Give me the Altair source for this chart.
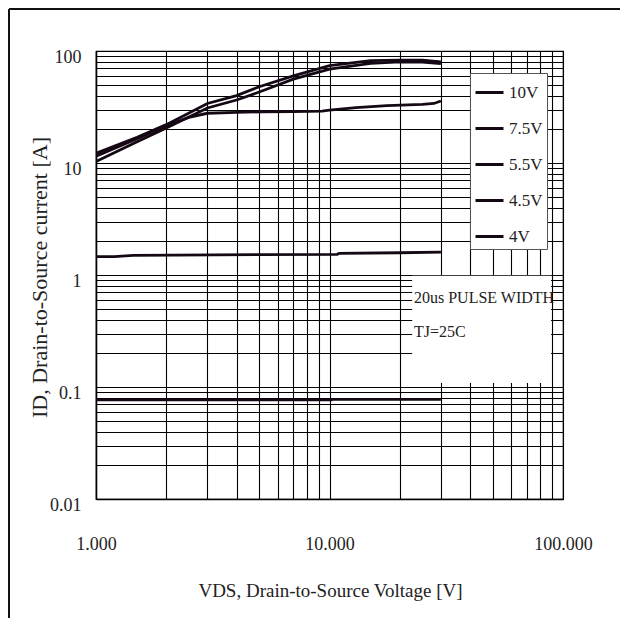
import altair as alt
import pandas as pd

# ---- data ----
series = ["10V", "7.5V", "5.5V", "4.5V", "4V"]

vds_10v = [1.0, 1.5, 2.0, 3.0, 4.0, 5.0, 7.0, 10.0, 15.0, 20.0, 25.0, 30.0]
id_10v = [12.2, 17.0, 22.0, 34.0, 40.0, 48.0, 60.0, 74.0, 82.0, 83.0, 83.0, 80.0]

vds_7v5 = [1.0, 1.5, 2.0, 3.0, 4.0, 5.0, 7.0, 10.0, 15.0, 20.0, 25.0, 30.0]
id_7v5 = [10.3, 15.5, 20.5, 31.0, 36.5, 43.0, 56.0, 69.0, 77.5, 80.0, 79.5, 77.0]

vds_5v5 = [1.0, 1.5, 2.0, 2.5, 3.0, 4.0, 5.0, 7.0, 9.3, 10.0, 13.0, 17.6, 25.0, 28.0, 30.0]
id_5v5 = [11.5, 16.5, 21.5, 25.5, 27.8, 28.3, 28.6, 28.8, 29.0, 29.7, 31.2, 32.5, 33.4, 34.0, 35.8]

vds_4v5 = [1.0, 1.2, 1.44, 5.0, 10.8, 11.0, 20.0, 30.0]
id_4v5 = [1.46, 1.46, 1.50, 1.52, 1.53, 1.56, 1.58, 1.60]

vds_4v = [1.0, 10.2, 10.3, 30.0]
id_4v = [0.0766, 0.0766, 0.0776, 0.0776]

x_ticks = [1, 2, 3, 4, 5, 6, 7, 8, 9, 10, 20, 30, 40, 50, 60, 70, 80, 90, 100]
y_ticks = [0.01, 0.02, 0.03, 0.04, 0.05, 0.06, 0.07, 0.08, 0.09,
           0.1, 0.2, 0.3, 0.4, 0.5, 0.6, 0.7, 0.8, 0.9,
           1, 2, 3, 4, 5, 6, 7, 8, 9,
           10, 20, 30, 40, 50, 60, 70, 80, 90, 100]

note_text = ["20us PULSE WIDTH", "TJ=25C"]
note_x = [23.0, 23.0]
note_y = [0.623, 0.31]
note_box_x = [22.6]
note_box_x2 = [88.9]
note_box_y = [0.985]
note_box_y2 = [0.1086]

# ---- tables ----
rows = []
for name, xs, ys in [("10V", vds_10v, id_10v), ("7.5V", vds_7v5, id_7v5),
                     ("5.5V", vds_5v5, id_5v5), ("4.5V", vds_4v5, id_4v5),
                     ("4V", vds_4v, id_4v)]:
    for i, (xv, yv) in enumerate(zip(xs, ys)):
        rows.append({"series": name, "vds": xv, "id": yv, "order": i})
df = pd.DataFrame(rows)

notes = pd.DataFrame({"text": note_text, "x": note_x, "y": note_y})
box = pd.DataFrame({"x": note_box_x, "x2": note_box_x2, "y": note_box_y, "y2": note_box_y2})

FONT = "Liberation Serif"

xscale = alt.Scale(type="log", domain=[1, 100], nice=False)
yscale = alt.Scale(type="log", domain=[0.01, 100], nice=False)

x_axis = alt.Axis(
    values=x_ticks,
    labelExpr="indexof(['1','10','100'], format(datum.value,'~g')) >= 0 ? format(datum.value,'.3f') : ''",
    labelOverlap=False, labelFlush=False, ticks=False,
    labelPadding=45, labelBaseline="middle", labelFontSize=18,
    title="VDS, Drain-to-Source Voltage [V]",
    titleX=234, titleY=97, titleAlign="center", titleBaseline="alphabetic",
    titleFontSize=19,
)
y_axis = alt.Axis(
    values=y_ticks,
    labelExpr="indexof(['0.01','0.1','1','10','100'], format(datum.value,'~g')) >= 0 ? format(datum.value,'~g') : ''",
    labelOverlap=False, labelFlush=False, ticks=False,
    labelPadding=15, labelBaseline="middle", labelOffset=6, labelFontSize=18,
    title="ID, Drain-to-Source current [A]",
    titleX=-50, titleY=226, titleAngle=270, titleAlign="center", titleBaseline="alphabetic",
    titleFontSize=22,
)

lines = alt.Chart(df).mark_line(strokeWidth=2.8, clip=True).encode(
    x=alt.X("vds:Q", scale=xscale, axis=x_axis),
    y=alt.Y("id:Q", scale=yscale, axis=y_axis),
    color=alt.Color(
        "series:N",
        sort=series,
        scale=alt.Scale(domain=series, range=["#140814"] * 5),
        legend=alt.Legend(
            title=None, orient="none", legendX=374, legendY=22,
            symbolType="stroke", symbolSize=784, symbolStrokeWidth=3,
            labelFont=FONT, labelFontSize=17, labelColor="#222",
            labelOffset=4, rowPadding=12, padding=4,
            fillColor="white", strokeColor="#555",
        ),
    ),
    order="order:Q",
)

note_rect = alt.Chart(box).mark_rect(color="white").encode(
    x=alt.X("x:Q", scale=xscale), x2="x2:Q",
    y=alt.Y("y:Q", scale=yscale), y2="y2:Q",
)

note_txt = alt.Chart(notes).mark_text(
    align="left", baseline="middle", font=FONT, fontSize=16, color="#222"
).encode(
    x=alt.X("x:Q", scale=xscale),
    y=alt.Y("y:Q", scale=yscale),
    text="text:N",
)

frame_df = pd.DataFrame({"k": [0]})
frame_left = alt.Chart(frame_df).mark_rule(color="#111", strokeWidth=2).encode(
    x=alt.value(-87), y=alt.value(-42), y2=alt.value(567)
)
frame_top = alt.Chart(frame_df).mark_rule(color="#111", strokeWidth=2).encode(
    x=alt.value(-87), x2=alt.value(524), y=alt.value(-42)
)

chart = alt.layer(note_rect, lines, note_txt, frame_left, frame_top).properties(
    width=467, height=448,
    autosize=alt.AutoSizeParams(type="none"),
    padding={"left": 88, "top": 43, "right": 57, "bottom": 119},
    background="white",
).configure_axis(
    grid=True, gridColor="#000", gridWidth=1.1, gridOpacity=1,
    domainColor="#000", domainWidth=1.5,
    labelFont=FONT, titleFont=FONT, labelColor="#222", titleColor="#222",
    titleFontWeight="normal",
).configure_view(stroke="#000", strokeWidth=1.2)

chart.save("out.html", embed_options={"renderer": "svg", "actions": False})
